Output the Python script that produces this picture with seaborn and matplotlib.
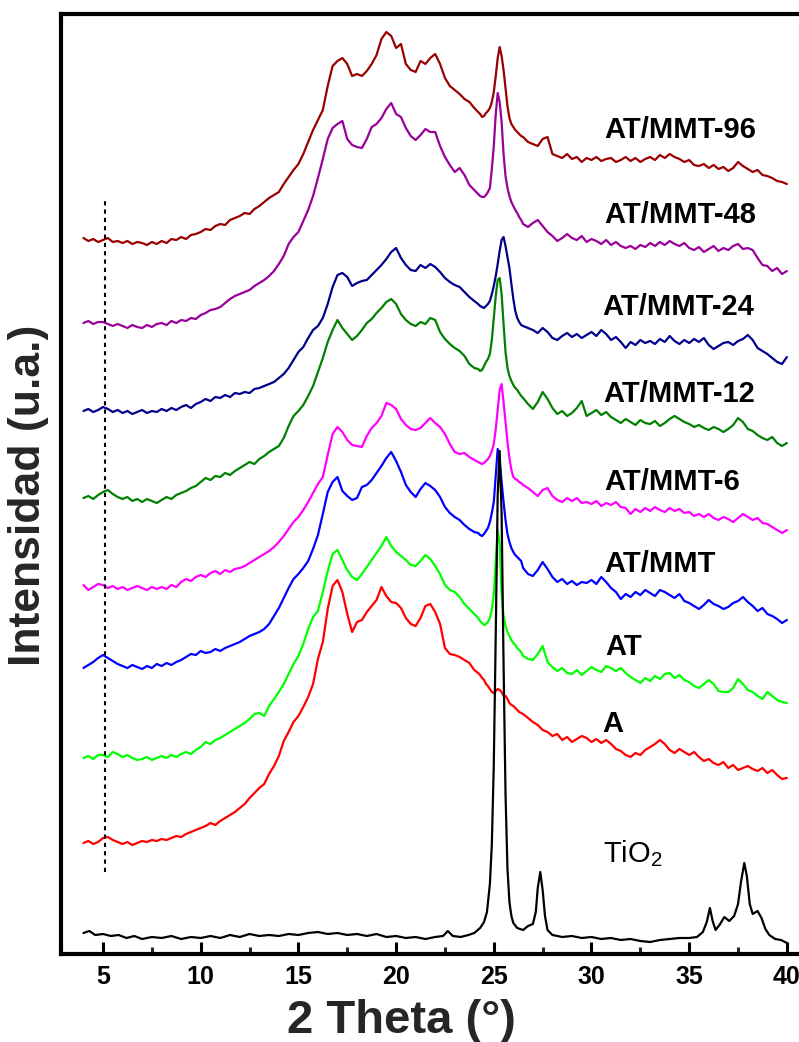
import numpy as np
import matplotlib
matplotlib.use("Agg")
import matplotlib.pyplot as plt
from matplotlib.ticker import MultipleLocator
import seaborn as sns

# ---------------------------------------------------------------
# Scan grid (2θ, degrees): 0.25° steps, 0.1° steps around the
# anatase (101) reflection.
# ---------------------------------------------------------------
theta_low = np.arange(4.0, 24.0 + 1e-9, 0.25)
theta_peak = np.round(np.arange(24.2, 26.4 + 1e-9, 0.1), 2)
theta_high = np.arange(26.5, 40.0 + 1e-9, 0.25)
two_theta = np.concatenate([theta_low, theta_peak, theta_high])

# Stacked intensities (a.u., offsets included), one row per degree
mmt96 = [
    716, 713, 715, 712, 714, 716, 712, 713, 711, 713, 710, 712,
    711, 709, 712, 710, 713, 711, 715, 714, 717, 715, 719, 720,
    722, 725, 724, 728, 730, 729, 734, 736, 738, 741, 740, 745,
    748, 752, 756, 759, 762, 770, 777, 784, 790, 800, 812, 824,
    834, 844, 868, 888, 893, 896, 890, 878, 880, 878, 883, 890,
    899, 915, 922, 918, 906, 910, 890, 884, 882, 893, 890, 896,
    900, 890, 876, 868, 864, 860, 855, 852, 846,
    842, 840, 837, 838, 841, 843, 846, 852, 862, 878, 896, 907,
    898, 884, 866, 848, 836, 830, 827, 824, 822, 820, 818,
    817, 812, 810, 808, 815, 817, 800, 798, 796, 800,
    795, 797, 792, 796, 794, 797, 793, 795, 796, 792, 794, 797,
    793, 796, 792, 795, 797, 794, 799, 796, 800, 797, 795, 792,
    794, 789, 788, 790, 786, 789, 785, 787, 783, 786, 792, 788,
    785, 782, 784, 779, 778, 776, 773, 772, 770,
]

mmt48 = [
    631, 633, 630, 632, 632, 630, 628, 630, 628, 626, 629, 627,
    626, 629, 627, 630, 631, 629, 633, 631, 634, 633, 636, 635,
    639, 641, 644, 645, 647, 651, 655, 658, 660, 662, 664, 668,
    671, 674, 678, 683, 690, 698, 710, 717, 722, 733, 744, 758,
    776, 795, 815, 826, 830, 833, 815, 809, 807, 806, 815, 827,
    830, 836, 845, 851, 840, 837, 826, 818, 814, 819, 825, 822,
    822, 808, 797, 789, 782, 786, 779, 769, 764,
    760, 758, 757, 757, 759, 762, 766, 785, 808, 840, 861, 852,
    832, 800, 778, 766, 758, 752, 748, 744, 741, 737, 734,
    730, 727, 731, 734, 728, 722, 718, 713, 716, 720,
    716, 714, 718, 712, 715, 713, 710, 714, 709, 712, 708, 706,
    708, 705, 709, 707, 711, 708, 712, 709, 713, 710, 708, 711,
    706, 704, 707, 702, 705, 708, 703, 706, 704, 708, 710, 705,
    706, 704, 696, 689, 688, 683, 686, 680, 683,
]

mmt24 = [
    543, 545, 542, 544, 547, 545, 542, 544, 541, 543, 540, 542,
    544, 541, 543, 542, 545, 543, 546, 544, 547, 549, 546, 550,
    552, 555, 553, 557, 556, 559, 557, 561, 560, 562, 561, 565,
    566, 568, 570, 572, 576, 580, 586, 594, 602, 607, 616, 624,
    628, 636, 650, 667, 679, 681, 677, 668, 671, 673, 674, 679,
    684, 689, 695, 702, 706, 696, 689, 684, 683, 689, 686, 690,
    687, 682, 676, 672, 669, 667, 662, 657, 653,
    650, 648, 647, 646, 648, 650, 653, 660, 668, 678, 690, 703,
    714, 717, 708, 697, 686, 670, 655, 643, 636, 632, 629,
    628, 626, 624, 621, 626, 622, 616, 614, 618, 621,
    617, 620, 616, 619, 622, 618, 624, 620, 614, 617, 612, 606,
    612, 609, 614, 611, 613, 610, 615, 612, 618, 613, 610, 614,
    611, 615, 612, 616, 609, 605, 608, 611, 612, 609, 613, 615,
    619, 614, 606, 603, 600, 596, 592, 590, 597,
]

mmt12 = [
    456, 458, 455, 459, 462, 464, 460, 457, 455, 457, 453, 455,
    452, 455, 453, 451, 454, 457, 455, 459, 461, 463, 466, 468,
    472, 476, 474, 478, 477, 481, 479, 483, 486, 489, 492, 490,
    495, 498, 502, 505, 508, 516, 528, 538, 543, 549, 558, 568,
    582, 596, 612, 624, 634, 626, 620, 614, 618, 624, 631, 635,
    641, 646, 652, 655, 650, 640, 634, 630, 628, 632, 630, 636,
    634, 622, 615, 610, 606, 603, 598, 590, 586,
    585, 583, 584, 588, 592, 595, 600, 614, 636, 658, 674, 676,
    660, 630, 602, 586, 578, 573, 569, 566, 564, 561, 558,
    556, 550, 545, 552, 562, 555, 546, 540, 543, 538,
    541, 546, 553, 538, 541, 544, 539, 542, 537, 534, 531, 535,
    532, 529, 534, 531, 530, 533, 528, 531, 535, 538, 535, 532,
    530, 527, 529, 526, 524, 527, 525, 522, 525, 529, 536, 532,
    525, 523, 519, 516, 514, 517, 511, 508, 511,
]

mmt6 = [
    369, 364, 367, 370, 369, 366, 368, 365, 367, 364, 366, 368,
    366, 364, 367, 365, 367, 365, 369, 367, 372, 375, 373, 377,
    379, 377, 381, 383, 380, 384, 382, 385, 386, 388, 391, 394,
    397, 400, 403, 407, 412, 418, 425, 432, 437, 444, 452, 461,
    470, 477, 499, 520, 527, 522, 514, 509, 508, 507, 518, 526,
    531, 538, 551, 549, 545, 535, 529, 525, 524, 526, 531, 536,
    531, 527, 520, 510, 502, 500, 501, 497, 494,
    492, 491, 490, 491, 493, 495, 498, 503, 510, 525, 545, 564,
    570, 552, 532, 512, 496, 484, 477, 475, 474, 472, 471,
    469, 466, 462, 458, 464, 466, 458, 454, 452, 456,
    453, 456, 451, 452, 450, 453, 448, 451, 449, 452, 447, 446,
    440, 445, 442, 446, 443, 447, 444, 442, 446, 443, 445, 441,
    442, 438, 440, 437, 440, 436, 434, 437, 435, 432, 436, 440,
    437, 434, 436, 431, 430, 427, 424, 421, 424,
]

at_mmt = [
    286, 289, 292, 296, 299, 296, 293, 290, 288, 286, 289, 287,
    285, 288, 286, 290, 288, 291, 289, 292, 294, 297, 300, 299,
    303, 301, 302, 305, 303, 306, 308, 310, 312, 315, 318, 320,
    322, 325, 330, 338, 346, 356, 366, 375, 380, 386, 393, 405,
    419, 440, 462, 472, 477, 463, 458, 454, 456, 467, 469, 474,
    481, 488, 496, 502, 493, 482, 469, 462, 457, 465, 471, 468,
    464, 457, 447, 441, 437, 434, 429, 425, 422,
    421, 419, 418, 420, 423, 426, 432, 441, 452, 478, 505, 494,
    472, 452, 434, 420, 412, 406, 402, 399, 397, 395, 393,
    386, 380, 378, 384, 392, 385, 377, 372, 375, 370,
    373, 369, 372, 371, 374, 370, 377, 372, 366, 362, 355, 360,
    357, 362, 359, 364, 361, 358, 364, 362, 359, 356, 360, 353,
    351, 348, 345, 349, 354, 350, 348, 345, 347, 351, 353, 357,
    352, 348, 343, 346, 340, 338, 335, 331, 334,
]

at = [
    196, 198, 195, 199, 199, 197, 202, 200, 197, 199, 196, 194,
    195, 197, 194, 196, 198, 196, 199, 197, 200, 202, 200, 204,
    207, 212, 210, 214, 216, 219, 222, 225, 228, 231, 235, 240,
    241, 238, 248, 255, 262, 270, 280, 290, 298, 310, 325, 337,
    343, 362, 383, 400, 404, 394, 384, 377, 374, 380, 387, 394,
    401, 408, 417, 408, 402, 398, 394, 389, 388, 393, 399, 395,
    388, 380, 369, 364, 362, 357, 350, 345, 340,
    336, 333, 331, 329, 330, 332, 336, 344, 360, 392, 424, 410,
    360, 338, 328, 322, 318, 314, 311, 309, 306, 304, 302,
    298, 295, 294, 300, 308, 292, 287, 283, 286, 281,
    280, 284, 279, 283, 287, 284, 282, 288, 286, 283, 286, 281,
    277, 274, 271, 276, 273, 278, 275, 280, 281, 276, 279, 274,
    272, 268, 266, 270, 274, 270, 263, 262, 262, 266, 275, 270,
    264, 262, 258, 255, 262, 258, 254, 252, 251,
]

a = [
    111, 113, 110, 112, 116, 117, 114, 112, 110, 112, 109, 111,
    113, 112, 114, 113, 115, 114, 116, 118, 117, 120, 122, 124,
    126, 128, 131, 129, 133, 136, 139, 142, 146, 150, 156, 161,
    166, 170, 180, 188, 198, 213, 222, 232, 238, 247, 257, 270,
    295, 312, 345, 368, 374, 362, 340, 322, 332, 334, 342, 348,
    354, 367, 358, 352, 351, 346, 336, 330, 328, 336, 348, 350,
    342, 330, 306, 300, 299, 297, 294, 291, 284,
    281, 279, 276, 274, 270, 268, 265, 262, 261, 263, 265, 264,
    262, 258, 258, 255, 251, 249, 248, 246, 244, 242, 241,
    240, 236, 232, 229, 224, 222, 218, 220, 214, 217,
    212, 215, 218, 216, 212, 215, 211, 214, 210, 205, 203, 199,
    197, 201, 199, 204, 207, 210, 214, 210, 204, 201, 205, 202,
    199, 202, 197, 193, 195, 191, 189, 192, 186, 189, 184, 186,
    188, 185, 183, 186, 181, 184, 179, 175, 176,
]

# Crystalline TiO2 reference pattern (own, finer sampling)
theta_tio2 = [
    4.0, 4.3, 4.6, 5.0, 5.4, 5.8, 6.2, 6.6, 7.0, 7.5, 8.0, 8.5, 9.0, 9.5,
    10.0, 10.5, 11.0, 11.5, 12.0, 12.5, 13.0, 13.5, 14.0, 14.5, 15.0, 15.5,
    16.0, 16.5, 17.0, 17.5, 18.0, 18.5, 19.0, 19.5, 20.0, 20.5, 21.0, 21.5,
    22.0, 22.4, 22.65, 22.9, 23.3, 23.7, 24.0, 24.3, 24.5, 24.65, 24.8,
    24.9, 25.0, 25.1, 25.2, 25.3, 25.4, 25.5, 25.6, 25.7, 25.8, 25.9, 26.0,
    26.2, 26.5, 26.75, 27.0, 27.15, 27.25, 27.38, 27.5, 27.62, 27.75, 28.0,
    28.5, 29.0, 29.5, 30.0, 30.5, 31.0, 31.5, 32.0, 32.5, 33.0, 33.5, 34.0,
    34.5, 35.0, 35.4, 35.7, 35.9, 36.06, 36.2, 36.35, 36.55, 36.8, 37.05,
    37.3, 37.5, 37.65, 37.82, 37.95, 38.1, 38.25, 38.5, 38.7, 38.9, 39.1,
    39.4, 39.7, 40.0,
]
int_tio2 = [
    21, 23, 19, 20, 18, 19, 16, 18, 15, 17, 16, 18, 15, 17,
    16, 18, 16, 19, 17, 20, 18, 19, 18, 20, 19, 21,
    22, 20, 21, 19, 20, 18, 20, 17, 18, 16, 17, 15,
    17, 18, 23, 18, 17, 19, 21, 26, 32, 42, 70,
    110, 190, 320, 460, 503, 440, 290, 160, 85, 52, 38, 31,
    26, 24, 28, 30, 42, 66, 82, 64, 38, 24, 19,
    17, 18, 16, 17, 15, 16, 14, 15, 13, 12, 14, 15,
    16, 16, 17, 22, 32, 46, 33, 24, 29, 37, 33,
    38, 50, 72, 91, 78, 50, 40, 43, 36, 25, 19,
    15, 14, 11,
]

series_names = ["AT/MMT-96", "AT/MMT-48", "AT/MMT-24", "AT/MMT-12",
                "AT/MMT-6", "AT/MMT", "AT", "A"]
series_values = [mmt96, mmt48, mmt24, mmt12, mmt6, at_mmt, at, a]
series_colors = ["#990000", "#990099", "#00008B", "#008000",
                 "#FF00FF", "#0000FF", "#00FF00", "#FF0000"]

# Label anchors (left edge in 2θ, text baseline in a.u.)
label_x = [30.64, 30.64, 30.54, 30.59, 30.64, 30.64, 30.69, 30.54, 30.59]
label_y = [816, 731, 639, 552, 464, 382, 299, 222, 92]

# Montmorillonite basal reflection marker
mmt_reflection = 5.1
marker_span = (82, 757)

for vals in series_values:
    assert len(vals) == len(two_theta), len(vals)
assert len(theta_tio2) == len(int_tio2)

sns.set_theme(style="ticks")
plt.rcParams["font.family"] = ["Liberation Sans", "DejaVu Sans"]
plt.rcParams["font.weight"] = "bold"
plt.rcParams["mathtext.default"] = "regular"

fig = plt.figure(figsize=(7.99, 10.42), dpi=100)
ax = fig.add_axes([61 / 799, 88 / 1042, (799 - 61) / 799, (954 - 14) / 1042])

for vals, color in zip(series_values, series_colors):
    sns.lineplot(x=two_theta, y=vals, color=color, linewidth=1.6,
                 estimator=None, ax=ax)
sns.lineplot(x=theta_tio2, y=int_tio2, color="black", linewidth=1.6,
             estimator=None, ax=ax)

ax.vlines(mmt_reflection, *marker_span, colors="black",
          linestyles=(0, (2, 2)), linewidth=1.5)

for name, x, y in zip(series_names, label_x, label_y):
    ax.text(x, y, name, fontsize=21, fontweight="bold", color="black",
            ha="left", va="baseline")
ax.text(label_x[-1], label_y[-1], "TiO$_2$", fontsize=21,
        fontweight="normal", color="black", ha="left", va="baseline")

ax.set_xlim(2.85, 40.62)
ax.set_ylim(0, 940)
ax.set_xticks([5, 10, 15, 20, 25, 30, 35, 40])
ax.xaxis.set_minor_locator(MultipleLocator(2.5))
ax.tick_params(axis="x", which="major", direction="in", length=9, width=2.2,
               labelsize=18, pad=8, colors="black", top=False)
ax.tick_params(axis="x", which="minor", direction="in", length=5, width=2.2,
               top=False)
ax.tick_params(axis="y", which="both", left=False, labelleft=False)
for lbl in ax.get_xticklabels():
    lbl.set_fontweight("bold")

for side in ["left", "top", "bottom"]:
    ax.spines[side].set_linewidth(3)
    ax.spines[side].set_color("black")
ax.spines["right"].set_visible(False)

ax.set_xlabel("2 Theta (°)", fontsize=34, fontweight="bold")
ax.xaxis.set_label_coords(0.461, -0.048)
ax.set_ylabel("Intensidad (u.a.)", fontsize=32, fontweight="bold")
ax.yaxis.set_label_coords(-0.016, 0.488)

fig.savefig("out.png", dpi=100)
